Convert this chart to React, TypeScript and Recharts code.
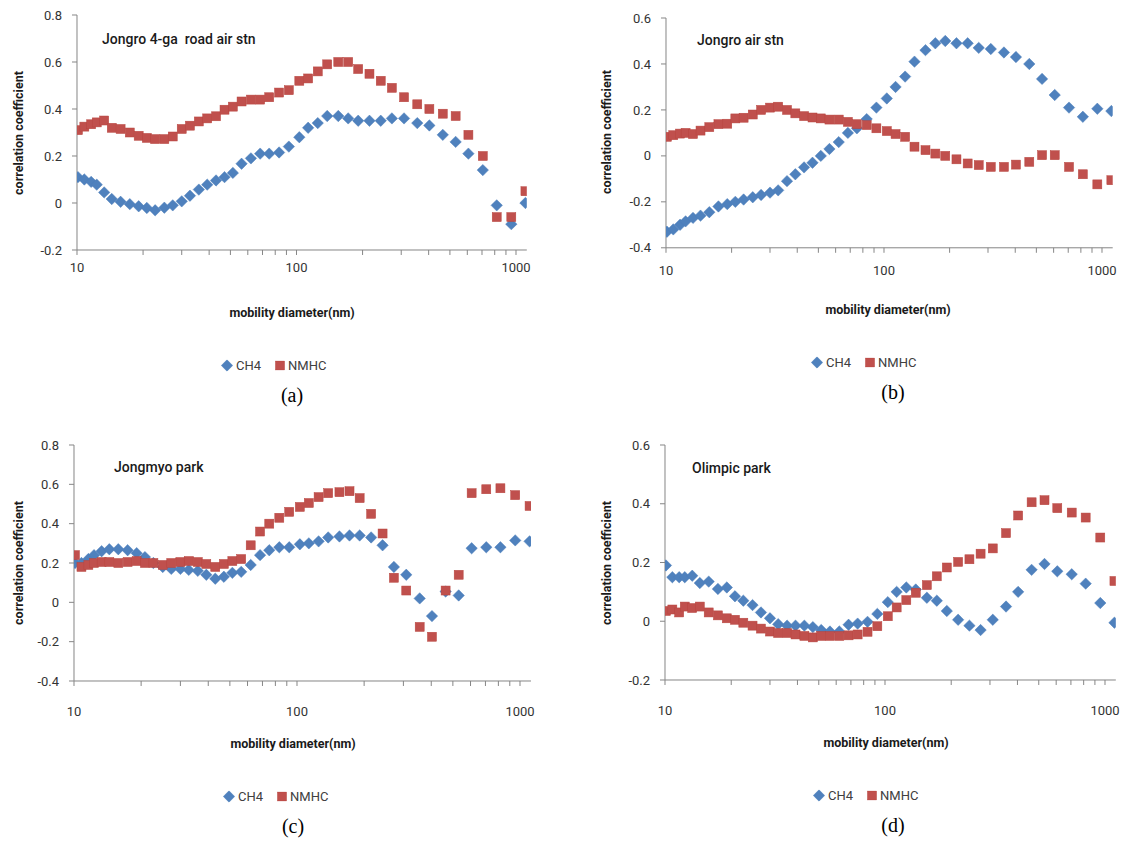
import { ScatterChart, Scatter, XAxis, YAxis } from "recharts";

// mobility diameter bins (nm), shared by all four sites
const diameters = [
  10.1, 10.8, 11.6, 12.3, 13.3, 14.4, 15.8, 17.4, 19.1, 20.8, 22.7, 25.0, 27.3, 30.0, 32.7, 35.9, 39.2, 43.0, 47.0, 51.3,
  56.2, 62.0, 68.3, 75.1, 83.3, 92.3, 103, 113, 125, 138, 155, 172, 191, 215, 242, 272, 309, 355, 403, 464, 531, 607,
  706, 817, 952, 1104,
];

// (a) Jongro 4-ga road air stn
const ch4A = [
  0.11, 0.1, 0.09, 0.078, 0.045, 0.017, 0.005, -0.005, -0.014, -0.021, -0.031, -0.02, -0.01, 0.007, 0.031, 0.057, 0.078,
  0.096, 0.11, 0.128, 0.167, 0.19, 0.21, 0.21, 0.215, 0.24, 0.28, 0.32, 0.34, 0.37, 0.37, 0.36, 0.35, 0.35, 0.35, 0.36,
  0.36, 0.34, 0.33, 0.29, 0.26, 0.21, 0.14, -0.01, -0.09, 0.0,
];
const nmhcA = [
  0.31, 0.325, 0.335, 0.343, 0.351, 0.32, 0.315, 0.3, 0.286, 0.277, 0.272, 0.272, 0.283, 0.315, 0.329, 0.347, 0.36, 0.369,
  0.397, 0.41, 0.432, 0.44, 0.44, 0.45, 0.47, 0.48, 0.52, 0.53, 0.56, 0.59, 0.6, 0.6, 0.57, 0.55, 0.52, 0.49, 0.45, 0.42,
  0.4, 0.38, 0.37, 0.29, 0.2, -0.06, -0.06, 0.05,
];

// (b) Jongro air stn
const ch4B = [
  -0.33, -0.32, -0.3, -0.285, -0.27, -0.26, -0.245, -0.22, -0.21, -0.2, -0.19, -0.18, -0.17, -0.16, -0.15, -0.11, -0.08,
  -0.05, -0.03, 0.0, 0.03, 0.06, 0.1, 0.12, 0.16, 0.21, 0.25, 0.3, 0.345, 0.41, 0.46, 0.49, 0.5, 0.49, 0.49, 0.47, 0.465,
  0.45, 0.43, 0.4, 0.335, 0.265, 0.21, 0.17, 0.205, 0.195,
];
const nmhcB = [
  0.083, 0.09, 0.097, 0.1, 0.095, 0.11, 0.125, 0.138, 0.14, 0.163, 0.166, 0.18, 0.2, 0.21, 0.214, 0.2, 0.185, 0.173, 0.167,
  0.163, 0.158, 0.158, 0.148, 0.138, 0.134, 0.12, 0.108, 0.095, 0.083, 0.04, 0.025, 0.01, 0.0, -0.015, -0.033, -0.04,
  -0.048, -0.048, -0.038, -0.026, 0.003, 0.003, -0.048, -0.08, -0.124, -0.106,
];

// (c) Jongmyo park
const ch4C = [
  0.2, 0.2, 0.22, 0.24, 0.26, 0.27, 0.27, 0.265, 0.25, 0.23, 0.2, 0.18, 0.17, 0.17, 0.165, 0.16, 0.14, 0.12, 0.13, 0.15,
  0.155, 0.19, 0.24, 0.265, 0.28, 0.28, 0.295, 0.3, 0.31, 0.33, 0.335, 0.34, 0.34, 0.33, 0.29, 0.18, 0.14, 0.02, -0.07,
  0.055, 0.035, 0.275, 0.28, 0.28, 0.315, 0.31,
];
const nmhcC = [
  0.24, 0.18, 0.19, 0.2, 0.205, 0.205, 0.2, 0.205, 0.21, 0.2, 0.2, 0.19, 0.2, 0.205, 0.21, 0.205, 0.195, 0.18, 0.195, 0.21,
  0.22, 0.29, 0.36, 0.4, 0.43, 0.46, 0.485, 0.505, 0.535, 0.555, 0.56, 0.565, 0.53, 0.45, 0.35, 0.125, 0.06, -0.125,
  -0.175, 0.06, 0.14, 0.555, 0.575, 0.58, 0.545, 0.49,
];

// (d) Olimpic park
const ch4D = [
  0.19, 0.15, 0.15, 0.15, 0.155, 0.13, 0.135, 0.11, 0.115, 0.085, 0.07, 0.055, 0.03, 0.01, -0.01, -0.015, -0.015, -0.015,
  -0.02, -0.03, -0.035, -0.035, -0.012, -0.008, -0.002, 0.025, 0.065, 0.1, 0.115, 0.108, 0.08, 0.07, 0.035, 0.005, -0.015,
  -0.03, 0.005, 0.05, 0.1, 0.175, 0.195, 0.17, 0.16, 0.128, 0.062, -0.005,
];
const nmhcD = [
  0.035, 0.04, 0.03, 0.05, 0.045, 0.05, 0.03, 0.02, 0.01, 0.005, -0.005, -0.015, -0.025, -0.035, -0.04, -0.04, -0.045,
  -0.05, -0.055, -0.05, -0.05, -0.05, -0.048, -0.045, -0.036, -0.017, 0.017, 0.047, 0.072, 0.097, 0.123, 0.153, 0.183,
  0.202, 0.211, 0.23, 0.248, 0.3, 0.36, 0.405, 0.412, 0.385, 0.37, 0.353, 0.285, 0.137,
];

const xTicks = [10, 20, 30, 40, 50, 60, 70, 80, 90, 100, 200, 300, 400, 500, 600, 700, 800, 900, 1000];
const xLabels = [10, 100, 1000];
const X_MAX = 1120;

const BLUE = "#4F81BD";
const RED = "#C0504D";
const AXIS = "#868686";
const font = "Roboto, 'Liberation Sans', Arial, sans-serif";

const Diamond = ({ cx, cy }: { cx?: number; cy?: number }) => {
  if (cx == null || cy == null) return null;
  const r = 5.7;
  return (
    <path d={`M${cx},${cy - r}L${cx + r},${cy}L${cx},${cy + r}L${cx - r},${cy}Z`} fill={BLUE} stroke="#4A7EBB" strokeWidth={0.5} />
  );
};

const Square = ({ cx, cy }: { cx?: number; cy?: number }) => {
  if (cx == null || cy == null) return null;
  const s = 4.5;
  return <rect x={cx - s} y={cy - s} width={s * 2} height={s * 2} fill={RED} stroke="#B8453F" strokeWidth={0.5} />;
};

const fmtY = (v: number) => (Math.abs(v) < 1e-9 ? "0" : v.toFixed(1));

interface PanelProps {
  title: string;
  titleX: number;
  titleY: number;
  letter: string;
  axisX: number;
  topY: number;
  bottomY: number;
  decade: number;
  yTicks: number[];
  ch4: number[];
  nmhc: number[];
  xTickGap: number;
  yTitleX: number;
  xTitleX: number;
  legendX: number;
  captionX: number;
}

function Panel(p: PanelProps) {
  const plotW = p.decade * Math.log10(X_MAX / 10);
  const plotH = p.bottomY - p.topY;
  const width = 70 + plotW + 10;
  const height = 10 + plotH + 40;
  const ch4Data = diameters.map((d, i) => ({ d, v: p.ch4[i] }));
  const nmhcData = diameters.map((d, i) => ({ d, v: p.nmhc[i] }));
  const yMin = p.yTicks[0];
  const yMax = p.yTicks[p.yTicks.length - 1];

  return (
    <>
      <div style={{ position: "absolute", left: p.axisX - 70, top: p.topY - 10 }}>
        <ScatterChart width={width} height={height} margin={{ top: 10, right: 10, bottom: 0, left: 0 }}>
          <XAxis
            type="number"
            dataKey="d"
            scale="log"
            domain={[10, X_MAX]}
            allowDataOverflow
            ticks={xTicks}
            interval={0}
            tickFormatter={(v: number) => (xLabels.includes(v) ? String(v) : "")}
            axisLine={{ stroke: AXIS }}
            tickLine={{ stroke: AXIS }}
            tickSize={5}
            tickMargin={p.xTickGap}
            height={40}
            tick={{ fill: "#333", fontSize: 13, fontFamily: font }}
          />
          <YAxis
            type="number"
            dataKey="v"
            domain={[yMin, yMax]}
            ticks={p.yTicks}
            interval={0}
            tickFormatter={fmtY}
            axisLine={{ stroke: AXIS }}
            tickLine={{ stroke: AXIS }}
            tickSize={5}
            tickMargin={10}
            width={70}
            tick={{ fill: "#333", fontSize: 13, fontFamily: font }}
          />
          <Scatter data={ch4Data} shape={(s: any) => <Diamond cx={s.cx} cy={s.cy} />} isAnimationActive={false} />
          <Scatter data={nmhcData} shape={(s: any) => <Square cx={s.cx} cy={s.cy} />} isAnimationActive={false} />
        </ScatterChart>
      </div>

      <div
        style={{
          position: "absolute",
          left: p.titleX,
          top: p.titleY - 9,
          fontFamily: font,
          fontSize: 14,
          fontWeight: 500,
          color: "#1a1a1a",
          whiteSpace: "pre",
        }}
      >
        {p.title}
      </div>

      <div
        style={{
          position: "absolute",
          left: p.yTitleX,
          top: (p.topY + p.bottomY) / 2,
          transform: "translate(-50%, -50%) rotate(-90deg)",
          fontFamily: font,
          fontSize: 12.5,
          fontWeight: 700,
          color: "#1a1a1a",
          whiteSpace: "nowrap",
        }}
      >
        correlation coefficient
      </div>

      <div
        style={{
          position: "absolute",
          left: p.xTitleX,
          top: p.bottomY + 62,
          transform: "translate(-50%, -50%)",
          fontFamily: font,
          fontSize: 12.5,
          fontWeight: 700,
          color: "#1a1a1a",
          whiteSpace: "nowrap",
        }}
      >
        mobility diameter(nm)
      </div>

      <div
        style={{
          position: "absolute",
          left: p.legendX - 5,
          top: p.bottomY + 115,
          transform: "translateY(-50%)",
          display: "flex",
          alignItems: "center",
          fontFamily: font,
          fontSize: 13,
          color: "#404040",
          whiteSpace: "nowrap",
        }}
      >
        <svg width={12} height={12}>
          <Diamond cx={6} cy={6} />
        </svg>
        <span style={{ marginLeft: 3 }}>CH4</span>
        <svg width={10} height={10} style={{ marginLeft: 14 }}>
          <Square cx={5} cy={5} />
        </svg>
        <span style={{ marginLeft: 3 }}>NMHC</span>
      </div>

      <div
        style={{
          position: "absolute",
          left: p.captionX,
          top: p.bottomY + 145,
          transform: "translate(-50%, -50%)",
          fontFamily: "'Liberation Serif', 'DejaVu Serif', serif",
          fontSize: 20,
          color: "#000",
        }}
      >
        {p.letter}
      </div>
    </>
  );
}

export default function App() {
  return (
    <div style={{ position: "absolute", left: 0, top: 0, width: 1130, height: 849, background: "#fff" }}>
      <Panel
        title="Jongro 4-ga  road air stn"
        titleX={102}
        titleY={40}
        letter="(a)"
        axisX={77}
        topY={15.3}
        bottomY={250.3}
        decade={219.5}
        yTicks={[-0.2, 0, 0.2, 0.4, 0.6, 0.8]}
        ch4={ch4A}
        nmhc={nmhcA}
        xTickGap={8}
        yTitleX={18}
        xTitleX={292}
        legendX={226}
        captionX={292}
      />
      <Panel
        title="Jongro air stn"
        titleX={697}
        titleY={41}
        letter="(b)"
        axisX={666}
        topY={17.5}
        bottomY={247.3}
        decade={218}
        yTicks={[-0.4, -0.2, 0, 0.2, 0.4, 0.6]}
        ch4={ch4B}
        nmhc={nmhcB}
        xTickGap={13}
        yTitleX={606}
        xTitleX={888}
        legendX={816}
        captionX={893}
      />
      <Panel
        title="Jongmyo park"
        titleX={114}
        titleY={468}
        letter="(c)"
        axisX={74}
        topY={445}
        bottomY={681}
        decade={223}
        yTicks={[-0.4, -0.2, 0, 0.2, 0.4, 0.6, 0.8]}
        ch4={ch4C}
        nmhc={nmhcC}
        xTickGap={21}
        yTitleX={18}
        xTitleX={293}
        legendX={228}
        captionX={293}
      />
      <Panel
        title="Olimpic park"
        titleX={692}
        titleY={469}
        letter="(d)"
        axisX={665}
        topY={445}
        bottomY={680}
        decade={220}
        yTicks={[-0.2, 0, 0.2, 0.4, 0.6]}
        ch4={ch4D}
        nmhc={nmhcD}
        xTickGap={21}
        yTitleX={606}
        xTitleX={886}
        legendX={818}
        captionX={893}
      />
    </div>
  );
}
